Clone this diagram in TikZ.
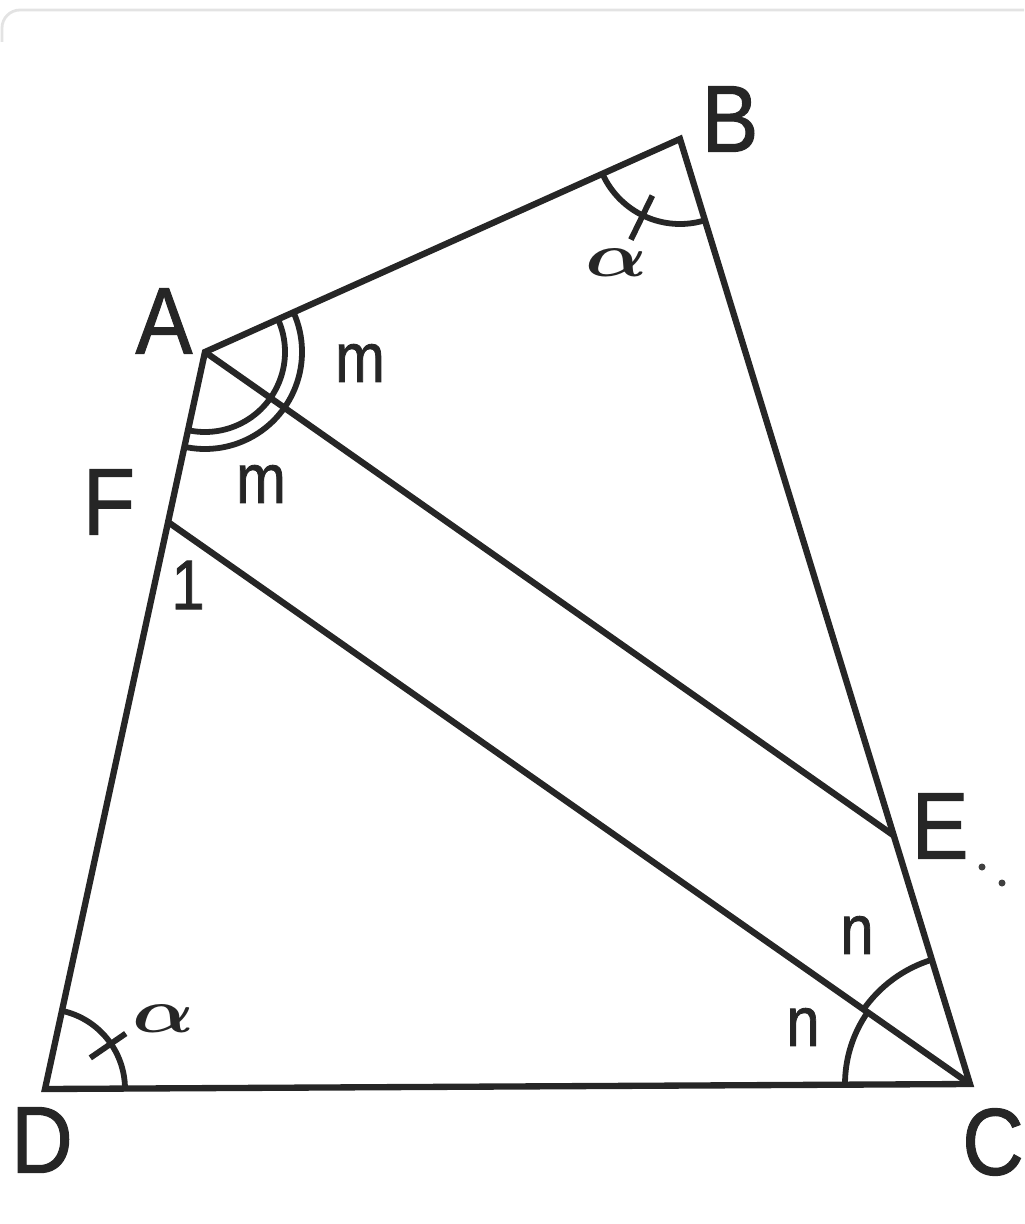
\documentclass[tikz,border=0pt]{standalone}
\usepackage{fontspec}
\setmainfont{Liberation Sans}
\newfontfamily\lblfont{Liberation Sans}[RawFeature={embolden=1.2}]
\usetikzlibrary{calc}
\tikzset{
  edge/.style={draw=black!85, line width=1.8pt, line join=miter},
  anglearc/.style={draw=black!85, line width=1.65pt},
  lbl/.style={text=black!85, font=\fontsize{27}{30}\selectfont\lblfont, xscale=0.9, inner sep=0pt},
  small/.style={text=black!85, font=\fontsize{20}{24}\selectfont\lblfont, xscale=0.85, inner sep=0pt},
  greek/.style={text=black!85, font=\fontsize{21}{24}\selectfont\boldmath, xscale=1.12, yscale=0.85, inner sep=0pt},
}
\begin{document}
\begin{tikzpicture}
\useasboundingbox (0,0) rectangle (10.24,-12.24);
% faint card border
\draw[gray!22, line width=0.8pt] (0.02,-0.42) -- (0.02,-0.28) arc[start angle=180, end angle=90, radius=0.18] -- (10.24,-0.10);

% points
\coordinate (A) at (2.05,-3.52);
\coordinate (B) at (6.80,-1.39);
\coordinate (C) at (9.70,-10.84);
\coordinate (D) at (0.45,-10.89);
\coordinate (E) at (8.93,-8.35);
\coordinate (F) at (1.68,-5.22);

% sides
\draw[edge] (A) -- (B) -- (C) -- (D) -- cycle;
\draw[edge] (A) -- (E);
\draw[edge] (F) -- (C);

% angle at B (alpha with tick)
\draw[anglearc] ($(B)+(204.15:0.85)$) arc[start angle=204.15, end angle=287.06, radius=0.85];
\draw[anglearc] ($(B)+(244:0.63)$) -- ($(B)+(244:1.12)$);

% angle at D (alpha with tick)
\draw[anglearc] ($(D)+(0.3:0.80)$) arc[start angle=0.3, end angle=77.75, radius=0.80];
\draw[anglearc] ($(D)+(34.5:0.55)$) -- ($(D)+(34.5:0.98)$);

% double arcs at A (m, m)
\draw[anglearc] ($(A)+(24.15:0.80)$) arc[start angle=24.15, end angle=-102.25, radius=0.80];
\draw[anglearc] ($(A)+(24.15:0.97)$) arc[start angle=24.15, end angle=-102.25, radius=0.97];

% arcs at C (n, n)
\draw[anglearc] ($(C)+(144.98:1.25)$) arc[start angle=144.98, end angle=180.3, radius=1.25];
\draw[anglearc] ($(C)+(107.18:1.30)$) arc[start angle=107.18, end angle=144.98, radius=1.30];

% vertex labels
\node[lbl] (lA) at (1.64,-3.21) {A};
\node[lbl] (lB) at (7.30,-1.19) {B};
\node[lbl] (lC) at (9.93,-11.42) {C};
\node[lbl] (lD) at (0.42,-11.40) {D};
\node[lbl] (lE) at (9.40,-8.26) {E};
\node[lbl] (lF) at (1.09,-5.02) {F};

% angle labels
\node[small] (m1) at (3.60,-3.63) {m};
\node[small] (m2) at (2.61,-4.84) {m};
\node[small] (n1) at (8.57,-9.35) {n};
\node[small] (n2) at (8.03,-10.27) {n};
\node[small] (one) at (1.88,-5.85) {1};
\node[greek] (a1) at (6.17,-2.63) {$\alpha$};
\node[greek] (a2) at (1.64,-10.19) {$\alpha$};

% stray dots next to E
\fill[black!75] (9.82,-8.67) circle (0.035);
\fill[black!75] (10.02,-8.83) circle (0.035);
\end{tikzpicture}
\end{document}
